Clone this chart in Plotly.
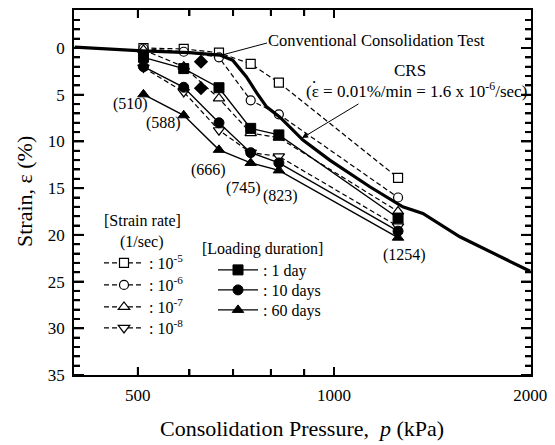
import numpy as np
import plotly.graph_objects as go

FONT = "Liberation Serif, Times New Roman, serif"

# ---------------- data ----------------
pressures = [510, 588, 666, 745, 823, 1254]
pressure_labels = ["(510)", "(588)", "(666)", "(745)", "(823)", "(1254)"]

rate_names = [": 10<sup>-5</sup>", ": 10<sup>-6</sup>", ": 10<sup>-7</sup>", ": 10<sup>-8</sup>"]
rate_1e5 = [0.0, 0.1, 0.5, 1.7, 3.7, 13.9]
rate_1e6 = [0.05, 0.4, 1.0, 5.6, 7.1, 16.0]
rate_1e7 = [0.2, 2.0, 5.4, 9.1, 9.6, 17.5]
rate_1e8 = [2.1, 4.7, 8.8, 11.2, 11.6, 19.1]

duration_names = [": 1 day", ": 10 days", ": 60 days"]
day_1 = [1.0, 2.2, 4.25, 8.6, 9.3, 18.2]
day_10 = [2.0, 4.2, 8.0, 11.2, 12.3, 19.6]
day_60 = [4.96, 7.2, 10.9, 12.3, 13.1, 20.3]

diamond_p = [625, 625]
diamond_e = [1.46, 4.3]

crs_p = [400, 450, 508, 600, 668, 699, 734, 761, 788, 826, 896, 985, 1135, 1275, 1369, 1560, 2000]
crs_e = [-0.1, 0.1, 0.3, 0.5, 0.75, 1.3, 3.1, 4.8, 6.3, 7.4, 9.85, 12.0, 14.85, 17.0, 17.7, 20.2, 23.9]

x_tickvals = [500, 1000, 2000]
x_ticktext = ["500", "1000", "2000"]
x_major_marks = [500, 1000]
x_minor_marks = [600, 700, 800, 900]
y_tickvals = [0, 5, 10, 15, 20, 25, 30, 35]
y_minor_marks = [v for v in range(-3, 35) if v % 5 != 0]

X_RANGE = [np.log10(399), np.log10(2006)]
Y_RANGE = [35, -4.07]

# ---------------- layout helpers (pixel -> paper) ----------------
W, H = 555, 445
L, R, T, B = 74, 531, 10, 375
PW, PH = R - L, B - T


def xp(px):
    return (px - L) / PW


def yp(py):
    return (B - py) / PH


def xfrac(v):
    return (np.log10(v) - X_RANGE[0]) / (X_RANGE[1] - X_RANGE[0])


fig = go.Figure()

rate_series = [rate_1e5, rate_1e6, rate_1e7, rate_1e8]
rate_symbols = ["square", "circle", "triangle-up", "triangle-down"]
rate_sizes = [9, 9, 10, 10]
legend_ids = ["legend", "legend2", "legend3", "legend4", "legend5", "legend6", "legend7"]

for i, (vals, sym, sz, nm) in enumerate(zip(rate_series, rate_symbols, rate_sizes, rate_names)):
    fig.add_trace(go.Scatter(
        x=pressures, y=vals, mode="lines+markers", name=nm,
        line=dict(color="black", width=1.2, dash="5px,3px"),
        marker=dict(symbol=sym, size=sz, color="white", line=dict(color="black", width=1.2)),
        legend=legend_ids[i],
    ))

dur_series = [day_1, day_10, day_60]
dur_symbols = ["square", "circle", "triangle-up"]
for j, (vals, sym, nm) in enumerate(zip(dur_series, dur_symbols, duration_names)):
    fig.add_trace(go.Scatter(
        x=pressures, y=vals, mode="lines+markers", name=nm,
        line=dict(color="black", width=1.4),
        marker=dict(symbol=sym, size=10, color="black", line=dict(color="black", width=1)),
        legend=legend_ids[4 + j],
    ))

fig.add_trace(go.Scatter(
    x=diamond_p, y=diamond_e, mode="markers", showlegend=False,
    marker=dict(symbol="diamond", size=11, color="black"),
))

fig.add_trace(go.Scatter(
    x=crs_p, y=crs_e, mode="lines", showlegend=False,
    line=dict(color="black", width=3.2),
))

# ---------------- legends ----------------
legend_pos = [
    (99, 263), (99, 285), (99, 307), (99, 328),
    (213, 270), (213, 290), (213, 310),
]
for lid, (lx, ly) in zip(legend_ids, legend_pos):
    fig.update_layout({lid: dict(
        x=xp(lx), y=yp(ly), xanchor="left", yanchor="middle",
        bgcolor="rgba(0,0,0,0)", borderwidth=0,
        font=dict(family=FONT, size=16, color="black"),
        itemwidth=40,
    )})

# ---------------- annotations ----------------
ann = []


def text(px, py, s, size=16, xanchor="center", angle=0):
    ann.append(dict(x=xp(px), y=yp(py), xref="paper", yref="paper", text=s,
                    showarrow=False, xanchor=xanchor, yanchor="middle",
                    textangle=angle, font=dict(family=FONT, size=size, color="black")))


label_px = [(130, 104), (163, 123), (208, 170), (243, 188), (280, 196), (404, 255)]
for (lx, ly), s in zip(label_px, pressure_labels):
    text(lx, ly, s)

text(142, 221, "[Strain rate]")
text(142, 242, "(1/sec)")
text(200, 249, "[Loading duration]", xanchor="left")
text(266, 40, "Conventional Consolidation Test", size=16.5, xanchor="left")
text(410, 70, "CRS", size=17)
text(416, 90, "(\u03b5 = 0.01%/min = 1.6 x 10<sup>-6</sup>/sec)", size=17)
text(314, 77, ".", size=17)
text(302, 428, "Consolidation Pressure,  <i>p</i> (kPa)", size=22)
text(25, 192, "Strain, \u03b5 (%)", size=22, angle=-90)

ann.append(dict(x=xp(302), y=yp(138), xref="paper", yref="paper", text="",
                showarrow=True, ax=58, ay=-35, arrowhead=2, arrowsize=1.2,
                arrowwidth=1, arrowcolor="black"))

fig.update_layout(annotations=ann)

shapes = [dict(type="line", xref="paper", yref="paper",
               x0=xp(222), y0=yp(55), x1=xp(267), y1=yp(43),
               line=dict(color="black", width=1))]

# axis tick marks (inside, mirrored on both sides)
TICK = dict(color="black", width=2)
for vals, ln in ((x_major_marks, 8), (x_minor_marks, 6)):
    for v in vals:
        xf = xfrac(v)
        shapes.append(dict(type="line", xref="paper", yref="paper", x0=xf, x1=xf,
                           y0=0, y1=ln / PH, line=TICK, layer="above"))
        shapes.append(dict(type="line", xref="paper", yref="paper", x0=xf, x1=xf,
                           y0=1 - ln / PH, y1=1, line=TICK, layer="above"))
for vals, ln in ((y_tickvals, 10), (y_minor_marks, 6)):
    for v in vals:
        shapes.append(dict(type="line", xref="paper", yref="y", x0=0, x1=ln / PW,
                           y0=v, y1=v, line=TICK, layer="above"))
        shapes.append(dict(type="line", xref="paper", yref="y", x0=1 - ln / PW, x1=1,
                           y0=v, y1=v, line=TICK, layer="above"))
fig.update_layout(shapes=shapes)

# ---------------- axes ----------------
fig.update_xaxes(
    type="log", range=X_RANGE, automargin=False,
    tickmode="array", tickvals=x_tickvals, ticktext=x_ticktext,
    ticks="inside", ticklen=8, tickwidth=2, tickcolor="black",
    minor=dict(tickmode="array", tickvals=x_minor_marks, ticks="inside",
               ticklen=6, tickwidth=2, tickcolor="black"),
    showline=True, linewidth=1.5, linecolor="black", mirror="ticks",
    showgrid=False, zeroline=False,
    tickfont=dict(family=FONT, size=17, color="black"),
    ticklabelstandoff=4,
)
fig.update_yaxes(
    range=Y_RANGE, automargin=False,
    tickmode="array", tickvals=y_tickvals,
    ticks="inside", ticklen=10, tickwidth=2, tickcolor="black",
    minor=dict(dtick=1, ticks="inside", ticklen=6, tickwidth=2, tickcolor="black"),
    showline=True, linewidth=1.5, linecolor="black", mirror="ticks",
    showgrid=False, zeroline=False,
    tickfont=dict(family=FONT, size=17, color="black"),
    ticklabelstandoff=4,
)

fig.update_layout(
    width=W, height=H,
    margin=dict(l=L, r=W - R, t=T, b=H - B),
    paper_bgcolor="white", plot_bgcolor="white",
    font=dict(family=FONT, color="black"),
)

fig.write_html("out.html", config={"displayModeBar": False},
               post_script="document.body.style.margin='0';")
